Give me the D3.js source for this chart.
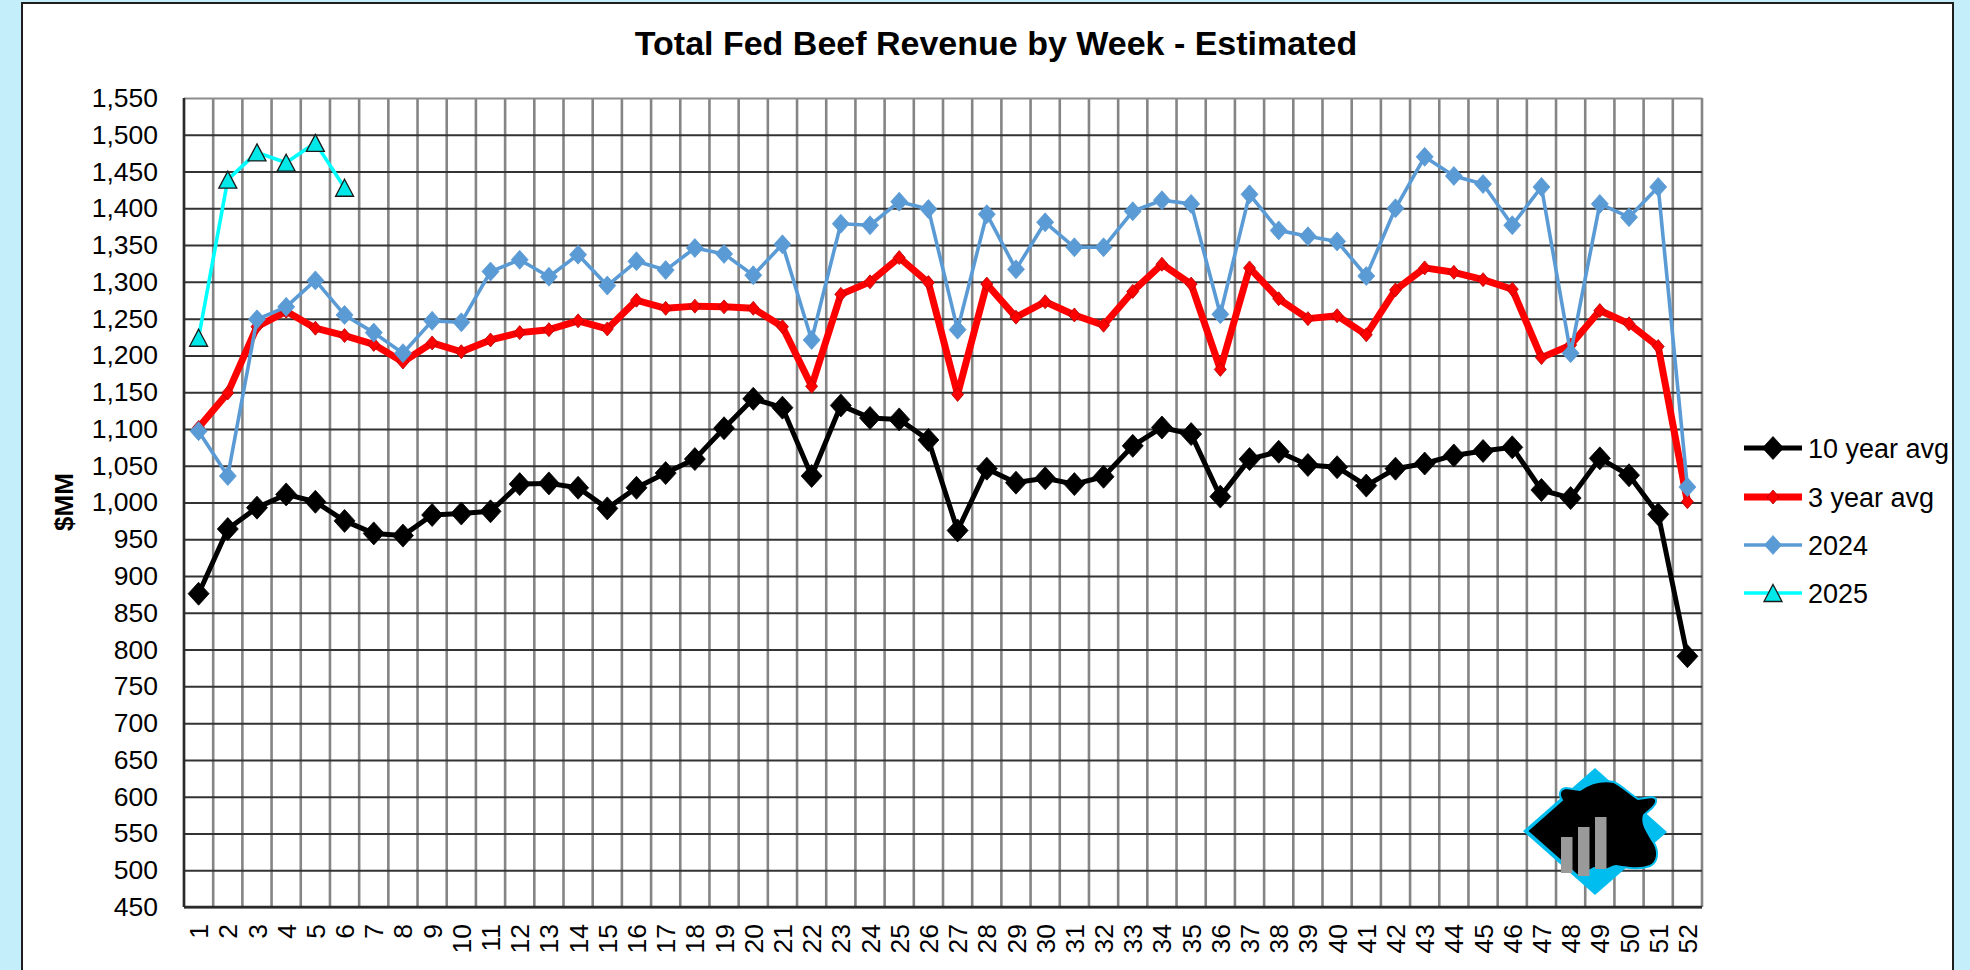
<!DOCTYPE html>
<html>
<head>
<meta charset="utf-8">
<script src="https://cdnjs.cloudflare.com/ajax/libs/d3/7.8.5/d3.min.js"></script>
<style>
  html, body { margin: 0; padding: 0; background: #c4eefa; }
  svg { display: block; font-family: "Liberation Sans", Arial, sans-serif; }
</style>
</head>
<body>
<svg id="chart" width="1970" height="970"></svg>
<script>
var weeks = [1,2,3,4,5,6,7,8,9,10,11,12,13,14,15,16,17,18,19,20,21,22,23,24,25,26,
             27,28,29,30,31,32,33,34,35,36,37,38,39,40,41,42,43,44,45,46,47,48,49,50,51,52];

var tenYearAvg = [876,964,993,1011,1001,975,958,955,983,985,988,1025,1026,1020,992,1020,
                  1040,1059,1101,1141,1129,1036,1132,1115,1113,1085,962,1046,1027,1033,1025,1035,
                  1077,1102,1093,1008,1059,1069,1051,1048,1023,1046,1053,1064,1070,1075,1017,1006,
                  1060,1037,984,791];

var threeYearAvg = [1102,1149,1239,1260,1237,1227,1215,1191,1217,1205,1221,1231,1235,1247,1236,1275,
                    1264,1267,1266,1264,1239,1158,1283,1300,1333,1299,1147,1297,1252,1273,1255,1241,
                    1287,1324,1297,1181,1319,1277,1250,1254,1228,1289,1319,1313,1303,1290,1197,1214,
                    1261,1243,1212,1001];

var year2024 = [1097,1036,1249,1266,1302,1255,1231,1203,1247,1245,1314,1330,1307,1337,1295,1328,
                1316,1346,1338,1309,1351,1221,1379,1377,1409,1399,1235,1392,1317,1381,1347,1347,
                1396,1411,1406,1256,1419,1370,1362,1355,1308,1400,1470,1444,1433,1377,1429,1203,
                1406,1388,1429,1021];

var year2025 = [1224,1439,1476,1462,1489,1428];

var yTicks = [450,500,550,600,650,700,750,800,850,900,950,1000,1050,1100,1150,1200,1250,
              1300,1350,1400,1450,1500,1550];

var seriesNames = ["10 year avg", "3 year avg", "2024", "2025"];

var svg = d3.select("#chart");
var plotLeft = 184, plotRight = 1702, plotTop = 98, plotBottom = 907;

// chart area
svg.append("rect")
    .attr("x", 22).attr("y", 3)
    .attr("width", 1931).attr("height", 990)
    .attr("fill", "#ffffff")
    .attr("stroke", "#1e1e1e")
    .attr("stroke-width", 2);

var x = d3.scaleBand().domain(weeks).range([plotLeft, plotRight]).padding(0);
var y = d3.scaleLinear().domain([450, 1550]).range([plotBottom, plotTop]);
var cx = function(w) { return x(w) + x.bandwidth() / 2; };

svg.append("text")
    .attr("x", 996).attr("y", 55)
    .attr("text-anchor", "middle")
    .attr("font-size", 34).attr("font-weight", "bold")
    .attr("fill", "#000")
    .text("Total Fed Beef Revenue by Week - Estimated");

// vertical grid (category boundaries)
svg.append("g").selectAll("line")
    .data(weeks.concat([null]))
    .enter().append("line")
    .attr("x1", function(d) { return d === null ? plotRight : x(d); })
    .attr("x2", function(d) { return d === null ? plotRight : x(d); })
    .attr("y1", plotTop).attr("y2", plotBottom)
    .attr("stroke", "#858585")
    .attr("stroke-width", 2.6);

// horizontal grid
svg.append("g")
    .attr("transform", "translate(" + plotLeft + ",0)")
    .call(d3.axisLeft(y).tickValues(yTicks).tickSize(-(plotRight - plotLeft)).tickFormat(""))
    .call(function(g) { g.select(".domain").remove(); })
    .selectAll("line")
    .attr("stroke", function(d) { return d === 1550 ? "#8c8c8c" : "#333333"; })
    .attr("stroke-width", 2);

// axis lines
svg.append("line").attr("x1", plotLeft).attr("x2", plotLeft).attr("y1", plotTop).attr("y2", plotBottom)
    .attr("stroke", "#2a2a2a").attr("stroke-width", 2.4);
svg.append("line").attr("x1", plotLeft).attr("x2", plotRight).attr("y1", plotBottom).attr("y2", plotBottom)
    .attr("stroke", "#2a2a2a").attr("stroke-width", 2.4);

// y axis labels
var yAxis = svg.append("g")
    .attr("transform", "translate(" + plotLeft + ",0)")
    .call(d3.axisLeft(y).tickValues(yTicks).tickSize(0).tickPadding(26).tickFormat(d3.format(",")));
yAxis.select(".domain").remove();
yAxis.selectAll("text")
    .attr("font-size", 26.5)
    .attr("font-family", "Liberation Sans, Arial, sans-serif")
    .attr("fill", "#000");

svg.append("text")
    .attr("transform", "translate(73,502) rotate(-90)")
    .attr("text-anchor", "middle")
    .attr("font-size", 26).attr("font-weight", "bold")
    .text("$MM");

// x axis labels
var xAxis = svg.append("g")
    .attr("transform", "translate(0," + plotBottom + ")")
    .call(d3.axisBottom(x).tickSize(0));
xAxis.select(".domain").remove();
xAxis.selectAll("text")
    .attr("transform", "rotate(-90)")
    .attr("text-anchor", "end")
    .attr("x", -17).attr("y", 0).attr("dy", "0.36em")
    .attr("font-size", 26.5)
    .attr("font-family", "Liberation Sans, Arial, sans-serif")
    .attr("fill", "#000");

function diamond(w, h) {
    return "M0," + (-h / 2) + "L" + (w / 2) + ",0L0," + (h / 2) + "L" + (-w / 2) + ",0Z";
}
function triangle(w, h) {
    return "M0," + (-h / 2) + "L" + (w / 2) + "," + (h / 2) + "L" + (-w / 2) + "," + (h / 2) + "Z";
}

var series = [
    {name: seriesNames[0], values: tenYearAvg, color: "#000000", width: 5,
     marker: diamond(21, 23), mfill: "#000000", mstroke: "#000000"},
    {name: seriesNames[1], values: threeYearAvg, color: "#ff0000", width: 7,
     marker: diamond(12, 14), mfill: "#ff0000", mstroke: "#b00000"},
    {name: seriesNames[2], values: year2024, color: "#5b9bd5", width: 3.6,
     marker: diamond(17, 19), mfill: "#5b9bd5", mstroke: "#5b9bd5"},
    {name: seriesNames[3], values: year2025, color: "#00ffff", width: 3.6,
     marker: triangle(18, 17), mfill: "#00e8e8", mstroke: "#1a1a1a"}
];

var line = d3.line()
    .x(function(d, i) { return cx(weeks[i]); })
    .y(function(d) { return y(d); });

series.forEach(function(s) {
    var g = svg.append("g");
    g.append("path")
        .attr("d", line(s.values))
        .attr("fill", "none")
        .attr("stroke", s.color)
        .attr("stroke-width", s.width)
        .attr("stroke-linejoin", "round");
    g.selectAll("path.marker")
        .data(s.values)
        .enter().append("path")
        .attr("class", "marker")
        .attr("transform", function(d, i) { return "translate(" + cx(weeks[i]) + "," + y(d) + ")"; })
        .attr("d", s.marker)
        .attr("fill", s.mfill)
        .attr("stroke", s.mstroke)
        .attr("stroke-width", s.name === "2025" ? 1.3 : 0.8);
});

// legend
var legend = svg.append("g").attr("transform", "translate(1744,0)");
var legendY = [448, 497, 545, 593];
series.forEach(function(s, i) {
    var row = legend.append("g").attr("transform", "translate(0," + legendY[i] + ")");
    row.append("line")
        .attr("x1", 0).attr("x2", 58)
        .attr("stroke", s.color)
        .attr("stroke-width", s.width);
    row.append("path")
        .attr("transform", "translate(29,0)")
        .attr("d", s.marker)
        .attr("fill", s.mfill)
        .attr("stroke", s.mstroke)
        .attr("stroke-width", s.name === "2025" ? 1.3 : 0.8);
    row.append("text")
        .attr("x", 64).attr("y", 9.5)
        .attr("font-size", 27)
        .attr("fill", "#000")
        .text(s.name);
});

// logo
var logo = svg.append("g");
logo.append("path")
    .attr("d", "M1523,831L1595,768L1667,832L1595,895Z")
    .attr("fill", "#00bdf0");
logo.append("path")
    .attr("d", "M1527,831L1562,800C1558,794 1560,789 1566,788L1580,790C1590,783 1602,780 1614,782" +
               "C1622,786 1630,794 1638,799L1652,797C1658,798 1657,803 1652,808L1644,815" +
               "C1641,824 1648,833 1654,843C1659,852 1658,862 1650,866C1640,870 1628,868 1616,866" +
               "C1610,867 1606,871 1602,870L1594,868L1585,873L1578,876Z")
    .attr("fill", "#000000")
    .attr("stroke", "#00bdf0")
    .attr("stroke-width", 2);
logo.selectAll("rect")
    .data([[1561, 837, 873], [1578, 827, 876], [1595, 817, 869]])
    .enter().append("rect")
    .attr("x", function(d) { return d[0]; })
    .attr("y", function(d) { return d[1]; })
    .attr("width", 11.5)
    .attr("height", function(d) { return d[2] - d[1]; })
    .attr("fill", "#9a9a9a");
</script>
</body>
</html>
